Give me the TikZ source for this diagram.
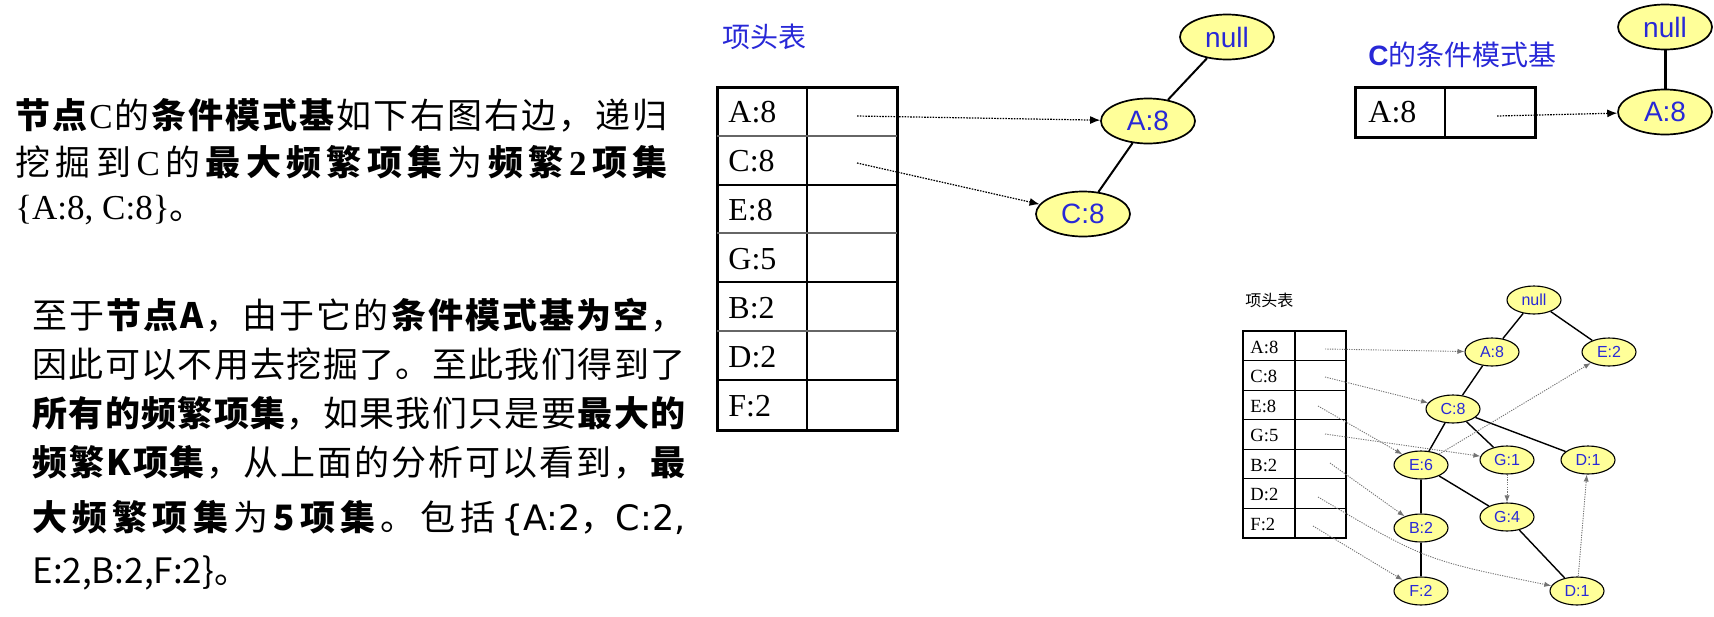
\documentclass[tikz,border=0pt]{standalone}
\usepackage{fontspec}
\setmainfont{Liberation Serif}
\newfontfamily\cjk{Noto Sans CJK SC}
\newfontfamily\ars{Liberation Sans}
\newfontfamily\tms{Liberation Serif}
\newfontfamily\dvs{DejaVu Sans}
\usetikzlibrary{arrows.meta,shapes.geometric}
\XeTeXinterchartokenstate=1
\makeatletter
\count@="3000
\loop
  \XeTeXcharclass\count@=7
  \ifnum\count@<"9FFF \advance\count@\@ne
\repeat
\count@="FF00
\loop
  \XeTeXcharclass\count@=7
  \ifnum\count@<"FFEF \advance\count@\@ne
\repeat
\makeatother
\XeTeXinterchartoks 7 7 = {\hskip 0pt plus 1fil\relax}
\XeTeXinterchartoks 0 7 = {\hskip 0pt plus 1fil\relax}
\XeTeXinterchartoks 7 0 = {\hskip 0pt plus 1fil\relax}
\definecolor{tblue}{RGB}{40,40,215}
\definecolor{nodefill}{RGB}{255,255,153}
\newcommand\bld[1]{{\bfseries #1}}
\newcommand\gl{\hskip 0pt plus 1fil\relax}
\begin{document}
\begin{tikzpicture}[x=0.5pt,y=-0.5pt,
  para/.style={anchor=base west, inner sep=0pt, font=\cjk\fontsize{17.5pt}{21pt}\selectfont},
  bigell/.style={ellipse, draw=black, line width=0.85pt, fill=nodefill, minimum width=47pt, minimum height=22.5pt, inner sep=0pt, text=tblue, font=\ars\fontsize{14pt}{16pt}\selectfont},
  smallell/.style={ellipse, draw=black, line width=0.55pt, fill=nodefill, minimum width=27pt, minimum height=14pt, inner sep=0pt, text=tblue, font=\ars\fontsize{8pt}{9pt}\selectfont},
  biglbl/.style={anchor=base west, inner sep=0pt, font=\tms\fontsize{16pt}{18pt}\selectfont},
  smalllbl/.style={anchor=base west, inner sep=0pt, font=\tms\fontsize{9.3pt}{11pt}\selectfont},
  hdr/.style={anchor=base west, inner sep=0pt, font=\cjk\fontsize{14pt}{16pt}\selectfont},
  bigptr/.style={line width=0.6pt, dash pattern=on 0.8pt off 0.6pt, -{Latex[length=5pt,width=4pt]}},
  smallptr/.style={black!55, line width=0.45pt, dash pattern=on 0.6pt off 0.6pt, -{Latex[length=3.5pt,width=2.6pt]}},
  bigedge/.style={line width=1pt},
  smalledge/.style={line width=0.7pt},
]
\useasboundingbox (0,0) rectangle (1714,616);

% ---------- left text ----------
\node[para] (p1a) at (15,128) {\hbox to 326pt{\bld{节点}\gl{\tms C}\gl 的\gl\bld{条件模式基}\gl 如下右图右边，递归}};
\node[para] (p1b) at (15,175) {\hbox to 326pt{挖掘到\gl{\tms C}\gl 的\gl\bld{最大频繁项集}\gl 为\gl\bld{频繁\gl{\tms 2}\gl 项集}}};
\node[para] (p1c) at (15,219) {{\tms\{A:8, C:8\}}。};

\node[para] (p2a) at (32,328) {\hbox to 326.5pt{至于\gl\bld{节点A}\gl，由于它的\gl\bld{条件模式基为空}\gl，}};
\node[para] (p2b) at (32,377) {\hbox to 326.5pt{因此可以不用去挖掘了。至此我们得到了}};
\node[para] (p2c) at (32,426) {\hbox to 326.5pt{\bld{所有的频繁项集}\gl，如果我们只是要\gl\bld{最大的}}};
\node[para] (p2d) at (32,475) {\hbox to 326.5pt{\bld{频繁K项集}\gl，从上面的分析可以看到，\gl\bld{最}}};
\node[para] (p2e) at (32,530) {\hbox to 326.5pt{\bld{大频繁项集}\gl 为\gl\bld{5项集}\gl。包括\gl\hbox{{\dvs\{A:2}，{\dvs C:2,}}}};
\node[para] (p2f) at (32,583) {E:2,B:2,F:2\}。};

% ---------- middle: header table ----------
\node[hdr, text=tblue] (hdr1) at (722,47) {项头表};
\draw[line width=1.5pt] (717,87) rectangle (897,430);
\draw[line width=1pt] (807,87) -- (807,430);
\foreach \yy in {136,233,331} \draw[line width=1.3pt, black!60] (717,\yy) -- (897,\yy);
\foreach \yy in {185,380} \draw[line width=1pt] (717,\yy) -- (897,\yy);
\draw[line width=0.6pt] (717,282) -- (897,282);
\node[biglbl] (lA) at (728,122.5) {A:8};
\node[biglbl] (lC) at (728,171.5) {C:8};
\node[biglbl] (lE) at (728,220.5) {E:8};
\node[biglbl] (lG) at (728,269.5) {G:5};
\node[biglbl] (lB) at (728,318.5) {B:2};
\node[biglbl] (lD) at (728,367.5) {D:2};
\node[biglbl] (lF) at (728,416.5) {F:2};
\coordinate (pA) at (857,116);
\coordinate (pC) at (857,163);

\node[bigell] (n1) at (1227,37) {null};
\node[bigell] (a1) at (1148,121) {A:8};
\node[bigell] (c1) at (1083,214) {C:8};
\draw[bigedge] (n1) -- (a1);
\draw[bigedge] (a1) -- (c1);
\draw[bigptr] (pA) -- (a1);
\draw[bigptr] (pC) -- (c1);

% ---------- top right: conditional pattern base ----------
\node[hdr, text=tblue] (hdr2) at (1368,65) {{\ars\bfseries C}的条件模式基};
\draw[line width=1.5pt] (1355,87) rectangle (1535,137);
\draw[line width=0.8pt] (1445,87) -- (1445,137);
\node[biglbl] (rA) at (1368,122) {A:8};
\coordinate (pR) at (1497,116);
\node[bigell] (n2) at (1665,27) {null};
\node[bigell] (a2) at (1665,112) {A:8};
\draw[line width=1.5pt] (n2) -- (a2);
\draw[bigptr] (pR) -- (a2);

% ---------- bottom right: full FP-tree ----------
\node[hdr, font=\cjk\fontsize{8pt}{9pt}\selectfont] (hdr3) at (1245,306) {项头表};
\draw[line width=1pt] (1243,331) rectangle (1346,538);
\draw[line width=1pt] (1295,331) -- (1295,538);
\foreach \k in {1,...,6} \draw[line width=0.6pt] (1243,{331+\k*29.57}) -- (1346,{331+\k*29.57});
\node[smalllbl] (sA) at (1250,353) {A:8};
\node[smalllbl] (sC) at (1250,382.5) {C:8};
\node[smalllbl] (sE) at (1250,412) {E:8};
\node[smalllbl] (sG) at (1250,441.5) {G:5};
\node[smalllbl] (sB) at (1250,471) {B:2};
\node[smalllbl] (sD) at (1250,500.5) {D:2};
\node[smalllbl] (sF) at (1250,530) {F:2};
\coordinate (bA) at (1325,349);
\coordinate (bC) at (1325,377);
\coordinate (bE) at (1318,406);
\coordinate (bG) at (1325,434);
\coordinate (bB) at (1330,463);
\coordinate (bD) at (1318,497);
\coordinate (bF) at (1313,526);

\node[smallell] (tn) at (1534,300) {null};
\node[smallell] (tA) at (1492,352) {A:8};
\node[smallell] (tE2) at (1609,352) {E:2};
\node[smallell] (tC) at (1453,409) {C:8};
\node[smallell] (tE6) at (1421,465) {E:6};
\node[smallell] (tG1) at (1507,460) {G:1};
\node[smallell] (tD1r) at (1588,460) {D:1};
\node[smallell] (tG4) at (1507,517) {G:4};
\node[smallell] (tB) at (1421,528) {B:2};
\node[smallell] (tF) at (1421,591) {F:2};
\node[smallell] (tD1b) at (1577,591) {D:1};

\draw[smalledge] (tn) -- (tA);
\draw[smalledge] (tn) -- (tE2);
\draw[smalledge] (tA) -- (tC);
\draw[smalledge] (tC) -- (tE6);
\draw[smalledge] (tC) -- (tG1);
\draw[smalledge] (tC) -- (tD1r);
\draw[smalledge] (tE6) -- (tB);
\draw[smalledge] (tE6) -- (tG4);
\draw[smalledge] (tB) -- (tF);
\draw[smalledge] (tG4) -- (tD1b);

\draw[smallptr] (bA) -- (tA);
\draw[smallptr] (bC) -- (tC);
\draw[smallptr] (bE) -- (tE6);
\draw[smallptr] (bG) -- (tG1);
\draw[smallptr] (bB) -- (tB);
\draw[smallptr] (bD) .. controls (1425,560) .. (tD1b);
\draw[smallptr] (bF) -- (tF);
\draw[smallptr] (tE6) -- (tE2);
\draw[smallptr] (tG1) -- (tG4);
\draw[smallptr] (tD1b) -- (tD1r);
\end{tikzpicture}
\end{document}
